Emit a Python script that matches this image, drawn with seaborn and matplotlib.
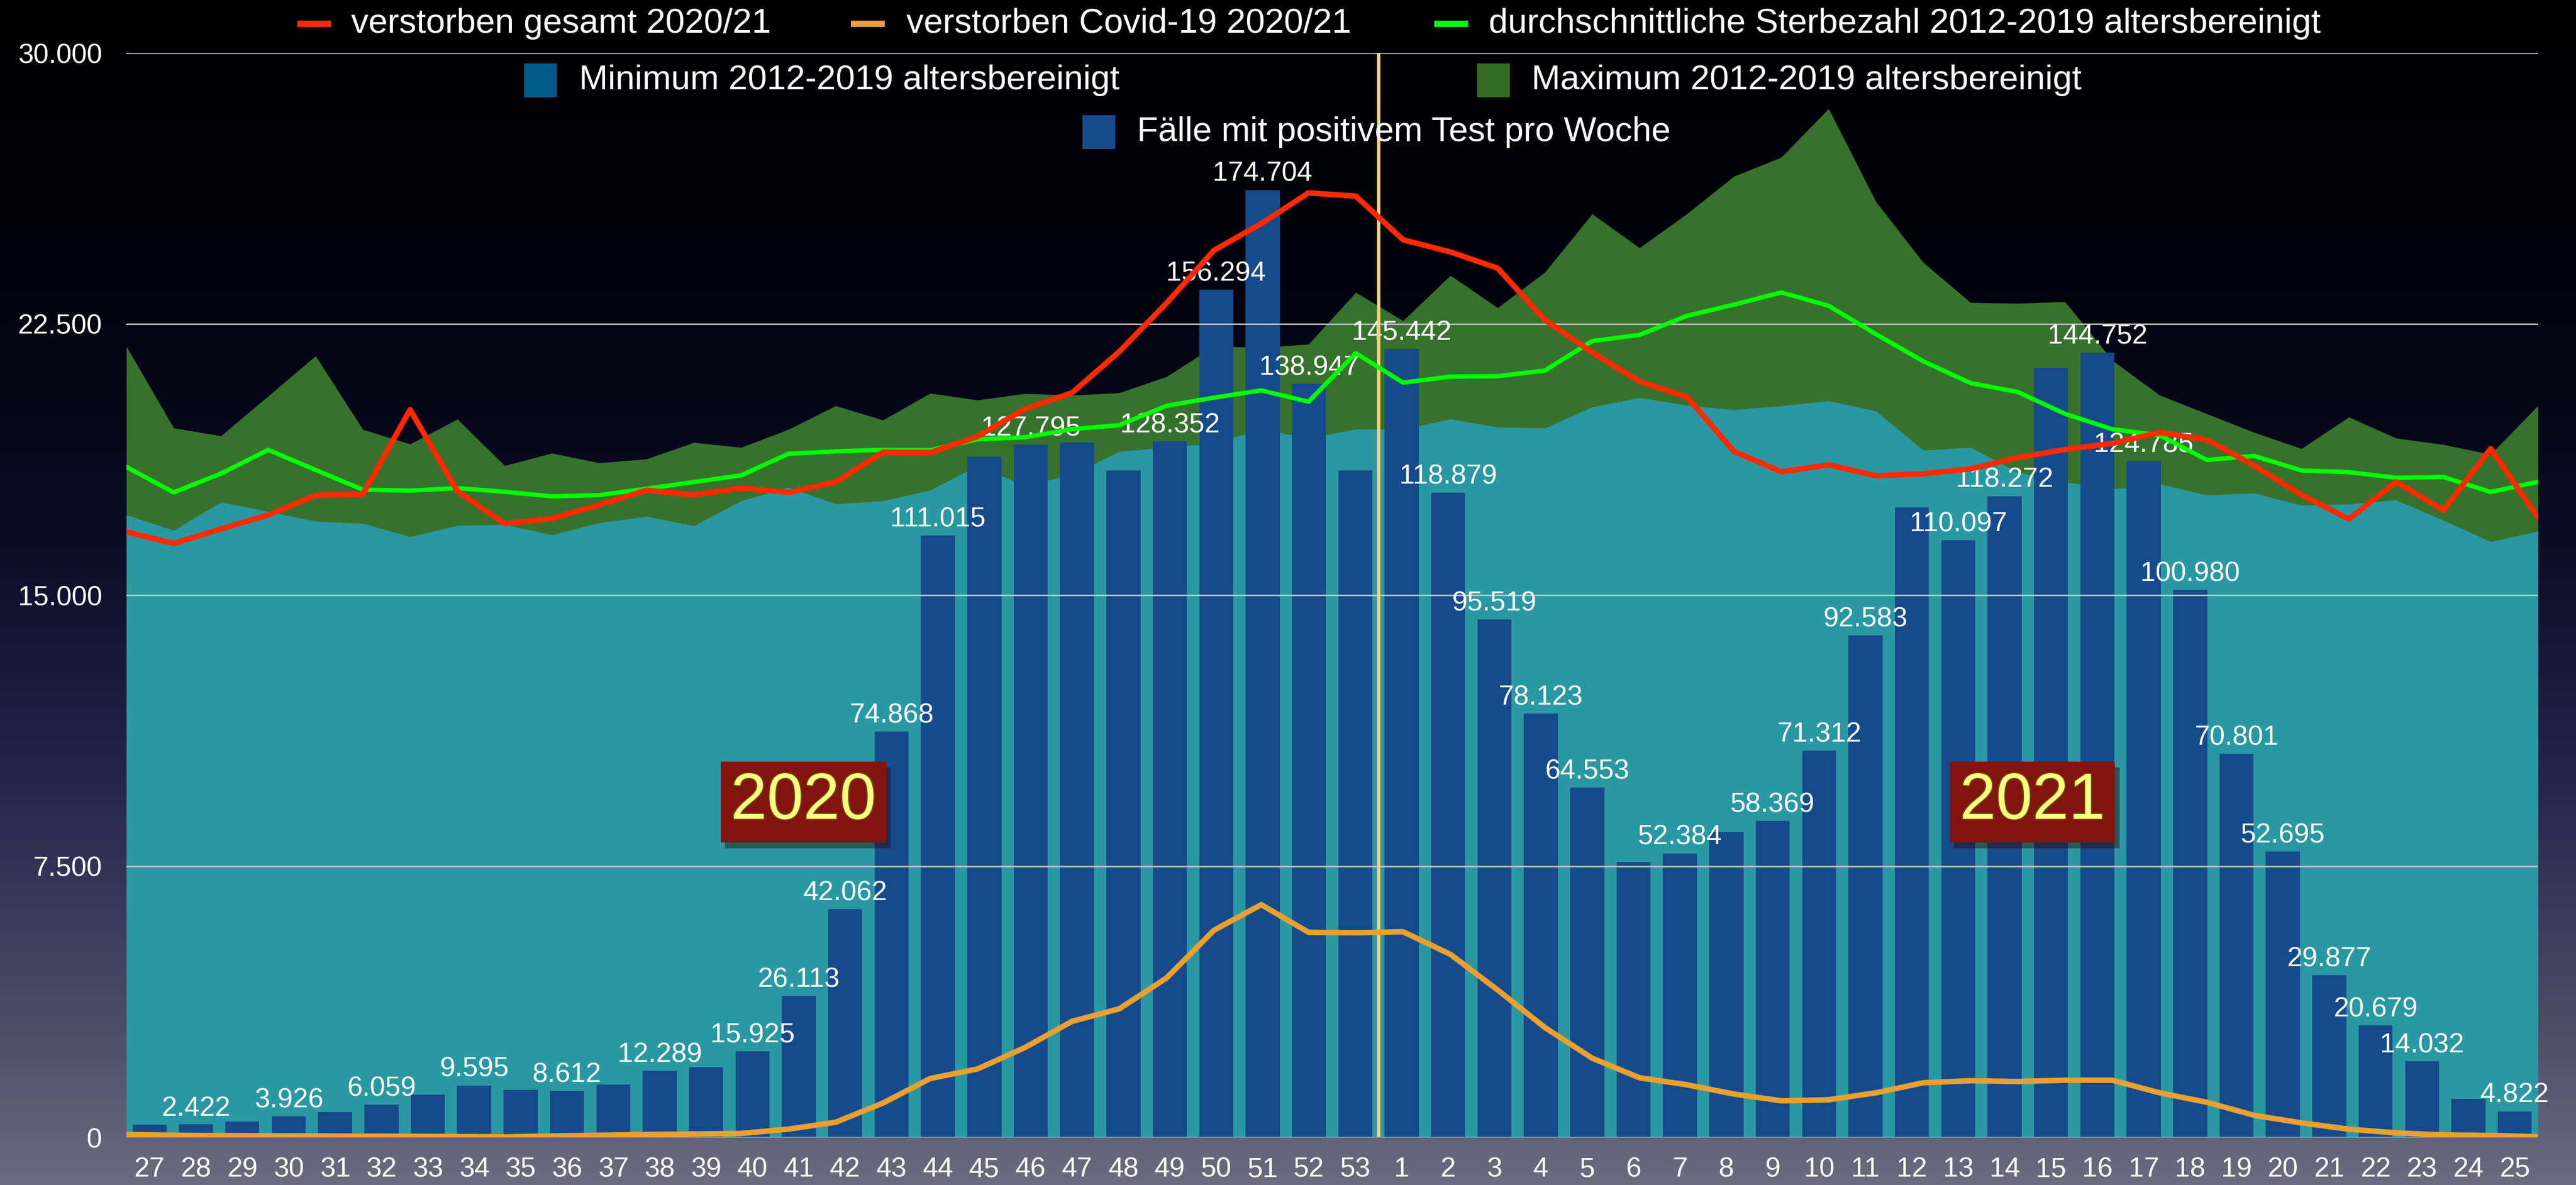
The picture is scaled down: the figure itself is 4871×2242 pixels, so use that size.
import numpy as np
import pandas as pd
import matplotlib
matplotlib.use('Agg')
import matplotlib.pyplot as plt
import matplotlib.patheffects as pe
from matplotlib.colors import LinearSegmentedColormap
from matplotlib.patches import Rectangle
import seaborn as sns

# calendar weeks 27/2020 .. 25/2021
weeks = list(range(27, 54)) + list(range(1, 26))

# positive tests per week
cases = [2310, 2422, 2920, 3926, 4720, 6059, 7880, 9595, 8780, 8612, 9760, 12289,
         12970, 15925, 26113, 42062, 74868, 111015, 125500, 127795, 128200, 123000,
         128352, 156294, 174704, 138947, 123000,
         145442, 118879, 95519, 78123, 64553, 50800, 52384, 56300, 58369, 71312,
         92583, 116200, 110097, 118272, 141900, 144752, 124785, 100980, 70801,
         52695, 29877, 20679, 14032, 7070, 4822]
labelled_weeks = [28, 30, 32, 34, 36, 38, 40, 41, 42, 43, 44, 46, 49, 50, 51, 52,
                  1, 2, 3, 4, 5, 7, 9, 10, 11, 13, 14, 16, 17, 18, 19, 20, 21, 22, 23, 25]
case_scale = 0.15  # cases are drawn on the death axis

deaths_total = [16749, 16429, 16833, 17220, 17758, 17792, 20129, 17876, 16976, 17119,
                17497, 17901, 17775, 17960, 17842, 18128, 18952, 18943, 19388, 20149,
                20597, 21739, 23082, 24537, 25276, 26127, 26037, 24828, 24493, 24045,
                22612, 21716, 20910, 20485, 18974, 18414, 18605, 18302, 18358, 18493,
                18806, 19030, 19198, 19500, 19298, 18582, 17776, 17104, 18134, 17351,
                19052, 17149]
deaths_covid = [80, 60, 50, 45, 40, 35, 30, 25, 15, 40, 60, 80, 95, 110, 230, 420, 950,
                1630, 1894, 2484, 3212, 3559, 4413, 5731, 6438, 5675, 5661, 5689, 5065,
                4080, 3039, 2192, 1651, 1457, 1200, 1013, 1041, 1235, 1512, 1568, 1547,
                1582, 1582, 1235, 971, 611, 402, 229, 125, 69, 56, 20]
deaths_avg = [18548, 17842, 18363, 19019, 18464, 17918, 17892, 17960, 17859, 17733,
              17766, 17943, 18128, 18313, 18910, 18977, 19019, 19010, 19310, 19366,
              19590, 19702, 20239, 20463, 20664, 20351, 21694, 20877, 21045, 21056,
              21213, 22030, 22198, 22724, 23037, 23373, 23004, 22220, 21470, 20866,
              20619, 20015, 19590, 19422, 18739, 18851, 18448, 18403, 18246, 18269,
              17854, 18134]
deaths_min = [17220, 16791, 17573, 17312, 17043, 16984, 16614, 16925, 16951, 16665,
              17001, 17178, 16917, 17607, 17985, 17522, 17607, 17905, 18582, 18022,
              18336, 18974, 19086, 19198, 19590, 19343, 19590, 19590, 19870, 19646,
              19623, 20205, 20463, 20250, 20127, 20239, 20373, 20093, 19007, 19086,
              18400, 18134, 17933, 18078, 17765, 17821, 17485, 17519, 17631, 17071,
              16478, 16769]
deaths_max = [21878, 19624, 19406, 20507, 21617, 19582, 19179, 19868, 18582, 18927,
              18658, 18767, 19221, 19086, 19582, 20238, 19843, 20585, 20396, 20575,
              20530, 20597, 21045, 21884, 21851, 21940, 23373, 22590, 23843, 22948,
              23933, 25545, 24605, 25545, 26586, 27112, 28455, 25881, 24201, 23093,
              23071, 23116, 21493, 20530, 20015, 19500, 19052, 19925, 19343, 19164,
              18896, 20239]
y_ticks = [0, 7500, 15000, 22500, 30000]

n = len(weeks)
df = pd.DataFrame({'pos': np.arange(n), 'week': weeks,
                   'bar': np.array(cases) * case_scale})
# the lines/areas run from the left edge to the right edge of the plot
line_x = np.linspace(-0.5, n - 0.5, n)

sns.set_theme(style='white')
plt.rcParams['font.family'] = ['Liberation Sans', 'DejaVu Sans']

W, H = 4871, 2242
fig = plt.figure(figsize=(W / 100, H / 100), dpi=100)

# background gradient
bg = fig.add_axes([0, 0, 1, 1], zorder=-10)
cmap = LinearSegmentedColormap.from_list('bg', [
    (0.0, '#000000'), (0.25, '#03030f'), (0.45, '#0b0b26'),
    (0.65, '#24234a'), (0.85, '#4a4966'), (1.0, '#6b6a80')])
grad = np.linspace(0, 1, 512).reshape(-1, 1)
bg.imshow(grad, aspect='auto', cmap=cmap, extent=[0, 1, 0, 1], origin='upper')
bg.axis('off')

ax = fig.add_axes([239 / W, 90 / H, (4799 - 239) / W, (2152 - 100) / H])
ax.patch.set_alpha(0)

ax.fill_between(line_x, 0, deaths_max, color='#37722d', lw=0, zorder=0.8)
ax.fill_between(line_x, 0, deaths_min, color='#2a98a2', lw=0, zorder=0.9)

sns.barplot(data=df, x='pos', y='bar', color='#164a8b', saturation=1,
            width=0.735, ax=ax, zorder=2, linewidth=0, edgecolor='none')

ax.set_ylim(0, 30000)
ax.set_xlim(-0.5, n - 0.5)
ax.set_yticks(y_ticks)
ax.set_yticklabels([f'{v:,}'.replace(',', '.') for v in y_ticks])
ax.set_xticks(range(n))
ax.set_xticklabels([str(w) for w in weeks])
ax.tick_params(axis='y', colors='white', labelsize=37.5, length=0, pad=33)
ax.tick_params(axis='x', colors='white', labelsize=37.5, length=0, pad=26)
for s in ax.spines.values():
    s.set_visible(False)
ax.yaxis.grid(True, color='#c4c4c4', lw=2)
ax.xaxis.grid(False)
ax.set_axisbelow(False)

# value labels on the bars
for i, (w, c) in enumerate(zip(weeks, cases)):
    if w in labelled_weeks:
        ax.annotate(f'{c:,}'.replace(',', '.'), xy=(i, c * case_scale),
                    xytext=(0, 4), textcoords='offset points', ha='center',
                    va='bottom', color='white', fontsize=37.5, zorder=3)

ax.axvline(26.5, color='#f8d27a', lw=4.5, zorder=3.2)

line_df = pd.DataFrame({'x': line_x, 'total': deaths_total, 'covid': deaths_covid,
                        'avg': deaths_avg})
sns.lineplot(data=line_df, x='x', y='avg', color='#00ff00', lw=6, ax=ax,
             sort=False, zorder=4)
sns.lineplot(data=line_df, x='x', y='covid', color='#e8a030', lw=7.5, ax=ax,
             sort=False, zorder=4)
sns.lineplot(data=line_df, x='x', y='total', color='#ff2a00', lw=7.5, ax=ax,
             sort=False, zorder=4.1)
ax.set_xlabel('')
ax.set_ylabel('')

# year boxes
for label, xpos in [('2020', 14.1), ('2021', 40.6)]:
    t = ax.text(xpos, 9280, label, ha='center', va='center', fontsize=89,
                color='#ffff80', zorder=5,
                bbox=dict(boxstyle='square,pad=0.15', fc='#83130f', ec='none'))
    t.set_path_effects([pe.Stroke(linewidth=3, foreground='#6a4a00'), pe.Normal()])
    t.get_bbox_patch().set_path_effects([
        pe.SimplePatchShadow(offset=(6, -8), alpha=0.45), pe.Normal()])


# legend, placed like the original slide
def px(x, y):
    return x / W, 1 - y / H


legend_items = [
    ('line', '#ff2a00', 562, 45, 664, 'verstorben gesamt 2020/21'),
    ('line', '#e8a030', 1609, 45, 1714, 'verstorben Covid-19 2020/21'),
    ('line', '#00ff00', 2712, 45, 2815, 'durchschnittliche Sterbezahl 2012-2019 altersbereinigt'),
    ('box', '#005a8c', 991, 152, 1095, 'Minimum 2012-2019 altersbereinigt'),
    ('box', '#336b25', 2793, 152, 2896, 'Maximum 2012-2019 altersbereinigt'),
    ('box', '#174a8c', 2047, 250, 2150, 'Fälle mit positivem Test pro Woche'),
]
for kind, col, mx, my, tx, text in legend_items:
    if kind == 'line':
        w, h = 64, 11
    else:
        w, h = 62, 63
    x0, y0 = px(mx, my + h / 2)
    fig.add_artist(Rectangle((x0, y0), w / W, h / H, transform=fig.transFigure,
                             fc=col, ec='none'))
    fx, fy = px(tx, my)
    fig.text(fx, fy, text, color='white', fontsize=47, ha='left', va='center')

fig.savefig('out.png', dpi=100)
